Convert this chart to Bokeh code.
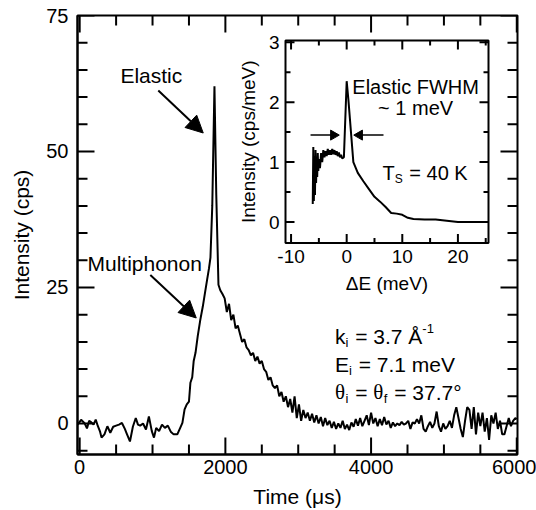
import math
from bokeh.plotting import figure
from bokeh.models import Range1d, FixedTicker, Label, Arrow, NormalHead
from bokeh.embed import file_html
from bokeh.resources import INLINE

# ---------------- data ----------------
time_us = [-30, 0, 20, 40, 70, 100, 130, 160, 190, 220, 250, 280, 300, 340, 380, 420, 460,
           500, 540, 580, 620, 650, 690, 730, 770, 800, 830, 870, 910, 950, 990, 1020, 1050,
           1090, 1130, 1170, 1210, 1250, 1290, 1340, 1380, 1410, 1440, 1470, 1500, 1520, 1545,
           1565, 1590, 1620, 1655, 1690, 1720, 1750, 1775, 1795, 1820, 1850, 1875, 1905, 1930,
           1960, 1990, 2020, 2050, 2080, 2110, 2140, 2170, 2200, 2230, 2260, 2290, 2320, 2350,
           2380, 2410, 2440, 2470, 2500, 2530, 2560, 2590, 2620, 2650, 2680, 2710, 2740, 2770,
           2800, 2830, 2860, 2890, 2920, 2950, 2980, 3010, 3040, 3070, 3100, 3130, 3160, 3190,
           3220, 3250, 3280, 3310, 3340, 3370, 3400, 3430, 3460, 3490, 3520, 3550, 3580, 3610,
           3640, 3670, 3700, 3730, 3760, 3790, 3820, 3850, 3880, 3910, 3940, 3970, 4000, 4030,
           4060, 4090, 4120, 4150, 4180, 4210, 4240, 4270, 4300, 4330, 4360, 4390, 4420, 4450,
           4480, 4510, 4540, 4570, 4600, 4630, 4660, 4690, 4720, 4750, 4780, 4810, 4840, 4870,
           4900, 4930, 4960, 4990, 5020, 5050, 5080, 5110, 5140, 5170, 5200, 5230, 5260, 5290,
           5320, 5350, 5380, 5410, 5440, 5470, 5500, 5530, 5560, 5590, 5620, 5650, 5680, 5710,
           5740, 5770, 5800, 5830, 5860, 5890, 5920, 5950, 5980, 6000]
counts_cps = [-0.2, 0.3, 0.7, 0.4, 0.0, -0.9, 0.5, 0.2, -0.2, 0.7, -0.5, -1.5, -2.6, -2.0, -0.5,
              -1.7, -0.6, -0.4, -0.2, 0.1, -1.0, -2.0, -3.3, -0.6, 1.0, -0.2, -0.4, 0.0, -1.1,
              1.3, -1.4, -2.6, -0.8, -1.4, -0.2, -0.8, -0.4, -1.5, -2.0, -2.0, -0.8, 0.1, 2.6,
              3.5, 4.0, 7.5, 8.5, 11.5, 13.0, 16.0, 19.0, 21.5, 24.0, 26.5, 28.5, 30.5, 40.0,
              62.0, 42.0, 25.5, 24.5, 23.8, 23.0, 20.5, 22.0, 19.0, 20.0, 17.5, 18.0, 16.5, 15.0,
              15.5, 14.0, 13.5, 12.5, 13.0, 11.5, 12.3, 11.0, 11.5, 10.0, 9.5, 8.0, 8.5, 7.0,
              6.5, 7.0, 5.0, 5.8, 4.0, 5.0, 3.0, 4.5, 2.0, 5.0, 1.0, 3.5, 0.5, 2.5, 1.0, 2.0,
              0.5, 1.8, 0.2, 1.5, 0.0, 1.2, -0.5, 1.0, -0.3, 0.5, -0.8, 0.3, -1.0, 0.0, -0.8,
              0.5, -1.0, -0.2, -1.2, 0.2, -0.6, 0.8, -0.4, 1.0, -0.5, 0.5, 1.5, -0.3, 2.0, 0.0,
              1.0, -0.5, 0.8, -0.3, 1.2, -0.2, 0.5, -0.8, 0.2, -0.5, 0.0, -0.3, 0.3, -0.2, 0.0,
              0.5, -1.0, 0.2, 0.0, 0.8, 0.0, 1.5, -1.0, -1.5, -0.5, 0.3, -0.8, 0.0, 2.2, -0.5,
              -1.5, 0.0, -1.0, -0.5, 0.5, -0.8, 1.5, 3.0, 1.0, -1.0, -2.5, 0.5, 3.0, 2.5, -1.0,
              3.0, -2.0, 2.0, -0.5, 2.0, -1.5, 1.0, -3.0, 1.5, 0.0, 2.0, -1.0, 0.5, -2.0, -2.0,
              -0.5, 1.0, -0.5, 0.5, 1.0, 0.8]

inset_dE = [-6.1, -6.0, -5.9, -5.8, -5.7, -5.6, -5.5, -5.4, -5.3, -5.2, -5.1, -5.0, -4.8, -4.6,
            -4.4, -4.2, -4.0, -3.8, -3.6, -3.4, -3.2, -3.0, -2.8, -2.6, -2.4, -2.2, -2.0, -1.8,
            -1.6, -1.4, -1.2, -1.0, -0.8, -0.5, 0.0, 0.3, 1.2, 2.0, 3.0, 4.0, 5.0, 6.0, 7.0,
            8.0, 9.0, 10.0, 11.0, 12.0, 14.0, 16.0, 18.0, 20.0, 25.0]
inset_int = [0.30, 1.25, 0.35, 1.10, 0.45, 1.20, 0.65, 1.05, 0.75, 1.15, 0.85, 1.05, 0.90, 1.15,
             1.00, 1.20, 1.08, 1.18, 1.10, 1.22, 1.12, 1.20, 1.12, 1.22, 1.13, 1.20, 1.12, 1.18,
             1.10, 1.16, 1.08, 1.12, 1.06, 1.08, 2.35, 2.05, 1.00, 0.82, 0.68, 0.55, 0.42, 0.34,
             0.25, 0.15, 0.14, 0.12, 0.07, 0.05, 0.04, 0.04, 0.02, 0.0, 0.0]

main_xticks = [0, 2000, 4000, 6000]
main_xminor = [500, 1000, 1500, 2500, 3000, 3500, 4500, 5000, 5500]
main_yticks = [0, 25, 50, 75]
main_yminor = [-5, 5, 10, 15, 20, 30, 35, 40, 45, 55, 60, 65, 70]
inset_xticks = [-10, 0, 10, 20]
inset_xlabels = ["-10", "0", "10", "20"]
inset_xminor = [-5, 5, 15, 25]
inset_yticks = [0, 1, 2, 3]
inset_ylabels = ["0", "1", "2", "3"]
inset_yminor = [0.5, 1.5, 2.5]

SANS = "Liberation Sans"
SERIF = "Liberation Serif"
NAN = float("nan")

WID = {' ': 278, '=': 584, '.': 278, '-': 333, 'A': 667, 'Å': 667, 'E': 667, 'K': 667,
       'S': 667, 'T': 611, 'e': 556, 'm': 833, 'V': 667, 'i': 222, 'f': 278, 'k': 500,
       '°': 400, 'θ': 500}
for d in '0123456789':
    WID[d] = 556


def text_width(s, size):
    return sum(WID.get(c, 556) for c in s) * size / 1000.0


def rich(fig, x, y, parts, size, **rn):
    off = 0.0
    for txt, kind in parts:
        fs = size if kind == 'n' else round(size * 0.62)
        yo = 0 if kind == 'n' else (-0.28 * size if kind == 'sub' else 0.38 * size)
        lead = len(txt) - len(txt.lstrip(' '))
        trail = len(txt) - len(txt.rstrip(' '))
        core = txt.strip(' ')
        off += lead * WID[' '] * fs / 1000.0
        font = SERIF if core == 'θ' else SANS
        fig.add_layout(Label(x=x, y=y, x_offset=off, y_offset=yo, text=core,
                             text_font=font, text_font_size=f"{fs}px",
                             text_baseline="alphabetic", text_align="left",
                             text_color="black", **rn))
        off += text_width(core, fs) + trail * WID[' '] * fs / 1000.0
        if kind != 'n':
            off += 1.0


def style_axis(ax, ticks, lab_size, standoff, title, title_size, title_standoff):
    ax.ticker = FixedTicker(ticks=list(ticks))
    ax.major_tick_in = 0
    ax.major_tick_out = 0
    ax.minor_tick_in = 0
    ax.minor_tick_out = 0
    ax.axis_line_width = 2
    ax.axis_line_color = "black"
    ax.major_label_text_font = SANS
    ax.major_label_text_font_size = lab_size
    ax.major_label_text_color = "black"
    ax.major_label_standoff = standoff
    ax.axis_label = title
    ax.axis_label_text_font = SANS
    ax.axis_label_text_font_size = title_size
    ax.axis_label_text_font_style = "normal"
    ax.axis_label_text_color = "black"
    ax.axis_label_standoff = title_standoff


def frame_ticks(fig, xs, ys, fw, fh, xt, yt, length, lw, **rn):
    """Inward ticks on the four sides of a box spanning data xs x ys (fw x fh px),
    drawn as one NaN-broken line; pixel length converted by the data-per-pixel scale."""
    dx = (xs[1] - xs[0]) / fw * length
    dy = (ys[1] - ys[0]) / fh * length
    lx, ly = [], []
    for t in xt:
        lx += [float(t), float(t), NAN]
        ly += [ys[0], ys[0] + dy, NAN]
        lx += [float(t), float(t), NAN]
        ly += [ys[1], ys[1] - dy, NAN]
    for t in yt:
        lx += [xs[0], xs[0] + dx, NAN]
        ly += [float(t), float(t), NAN]
        lx += [xs[1], xs[1] - dx, NAN]
        ly += [float(t), float(t), NAN]
    fig.line(lx, ly, line_color="black", line_width=lw, **rn)


# ---------------- main figure (pixel layout) ----------------
ML, MR, MT, MB = 77, 19, 15, 55
MW, MH = 536, 510
FW, FH = MW - ML - MR, MH - MT - MB
MX = (-30, 6010)
MY = (-5.7, 75)

p = figure(width=MW, height=MH, x_range=Range1d(*MX), y_range=Range1d(*MY),
           output_backend="svg", toolbar_location=None,
           min_border_left=ML, min_border_right=MR, min_border_top=MT, min_border_bottom=MB)
p.xgrid.visible = False
p.ygrid.visible = False
p.outline_line_color = "black"
p.outline_line_width = 2

style_axis(p.xaxis[0], main_xticks, "20px", 5, "Time (μs)", "21px", 8)
style_axis(p.yaxis[0], main_yticks, "20px", 9, "Intensity (cps)", "21px", 10)

p.line(time_us, counts_cps, line_color="black", line_width=2)
frame_ticks(p, MX, MY, FW, FH, main_xticks, main_yticks, 17, 2)
frame_ticks(p, MX, MY, FW, FH, main_xminor, main_yminor, 10, 2)

p.add_layout(Label(x=559, y=64.0, text="Elastic", text_font=SANS, text_font_size="21px",
                   text_baseline="alphabetic", text_align="left", text_color="black"))
p.add_layout(Label(x=107, y=29.5, text="Multiphonon", text_font=SANS, text_font_size="21px",
                   text_baseline="alphabetic", text_align="left", text_color="black"))
p.add_layout(Arrow(end=NormalHead(size=17, fill_color="black", line_color="black"),
                   x_start=1079, y_start=61.2, x_end=1696, y_end=53.4,
                   line_color="black", line_width=2))
p.add_layout(Arrow(end=NormalHead(size=17, fill_color="black", line_color="black"),
                   x_start=970, y_start=27.3, x_end=1600, y_end=19.4,
                   line_color="black", line_width=2))

rich(p, 3504, 16.0, [("k", 'n'), ("i", 'sub'), (" = 3.7 Å", 'n'), ("-1", 'sup')], 21)
rich(p, 3504, 10.8, [("E", 'n'), ("i", 'sub'), (" = 7.1 meV", 'n')], 21)
rich(p, 3504, 5.7, [("θ", 'n'), ("i", 'sub'), (" = ", 'n'), ("θ", 'n'), ("f", 'sub'),
                    (" = 37.7°", 'n')], 21)

# ---------------- inset: own scales inside the main frame ----------------
IX = (-11, 25.5)
IY = (-0.35, 3.03)
IL, IT, IFW, IFH = 285, 40, 203, 203          # inset frame box in page pixels
kx = (IX[1] - IX[0]) / IFW
ky = (IY[1] - IY[0]) / IFH
p.extra_x_ranges = {"ix": Range1d(IX[0] - (IL - ML) * kx,
                                  IX[1] + (ML + FW - IL - IFW) * kx)}
p.extra_y_ranges = {"iy": Range1d(IY[0] - (MT + FH - IT - IFH) * ky,
                                  IY[1] + (IT - MT) * ky)}
RN = dict(x_range_name="ix", y_range_name="iy")

p.quad(left=[IX[0]], right=[IX[1]], bottom=[IY[0]], top=[IY[1]],
       fill_color="white", line_color="black", line_width=2, **RN)
p.line(inset_dE, inset_int, line_color="black", line_width=2, **RN)
frame_ticks(p, IX, IY, IFW, IFH, inset_xticks, inset_yticks, 9, 2, **RN)
frame_ticks(p, IX, IY, IFW, IFH, inset_xminor, inset_yminor, 5, 2, **RN)

for t, s in zip(inset_xticks, inset_xlabels):
    p.add_layout(Label(x=t, y=IY[0], y_offset=-7, text=s, text_font=SANS,
                       text_font_size="19px", text_align="center", text_baseline="top",
                       text_color="black", **RN))
for t, s in zip(inset_yticks, inset_ylabels):
    p.add_layout(Label(x=IX[0], y=t, x_offset=-6, text=s, text_font=SANS,
                       text_font_size="19px", text_align="right", text_baseline="middle",
                       text_color="black", **RN))
p.add_layout(Label(x=(IX[0] + IX[1]) / 2, y=IY[0], y_offset=-30, text="ΔE (meV)",
                   text_font=SANS, text_font_size="19px", text_align="center",
                   text_baseline="top", text_color="black", **RN))
p.add_layout(Label(x=IX[0], y=(IY[0] + IY[1]) / 2, x_offset=-37, angle=math.pi / 2,
                   text="Intensity (cps/meV)", text_font=SANS, text_font_size="19px",
                   text_align="center", text_baseline="middle", text_color="black", **RN))

p.add_layout(Label(x=12.4, y=2.25, text="Elastic FWHM", text_font=SANS, text_font_size="20px",
                   text_baseline="alphabetic", text_align="center", text_color="black", **RN))
p.add_layout(Label(x=12.4, y=1.90, text="~ 1 meV", text_font=SANS, text_font_size="20px",
                   text_baseline="alphabetic", text_align="center", text_color="black", **RN))
rich(p, 6.44, 0.816, [("T", 'n'), ("S", 'sub'), (" = 40 K", 'n')], 20, **RN)

fwhm_shaft_x0 = [-6.5, 6.62]
fwhm_shaft_x1 = [-2.37, 2.31]
fwhm_y = [1.45, 1.45]
p.segment(x0=fwhm_shaft_x0, y0=fwhm_y, x1=fwhm_shaft_x1, y1=list(fwhm_y),
          line_color="black", line_width=1.5, **RN)
p.scatter(x=list(fwhm_shaft_x1), y=list(fwhm_y), marker="triangle", size=10,
          angle=[-math.pi / 2, math.pi / 2], fill_color="black", line_color="black", **RN)

open("out.html", "w").write(file_html(p, INLINE))
